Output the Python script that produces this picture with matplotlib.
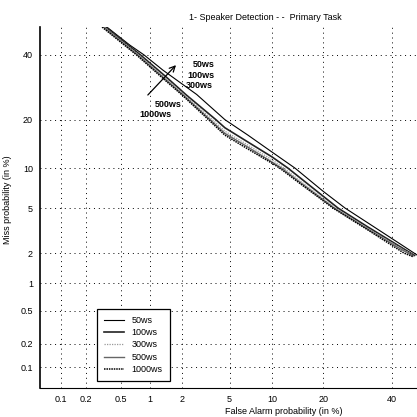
import matplotlib
matplotlib.use("Agg")
import matplotlib.pyplot as plt
import numpy as np
from statistics import NormalDist

plt.rcParams['font.family'] = ['Liberation Sans', 'DejaVu Sans']

# values (percent)
fa_50 = [0.35, 0.62, 0.87, 1.33, 2.7, 4.6, 6.84, 10.0, 13.9, 19.9, 25.6, 32.0, 42.7, 48.4]
miss_50 = [50, 43.5, 40, 34.8, 27, 20, 16.3, 12.8, 10.0, 6.8, 5.0, 3.8, 2.44, 1.92]

fa_100 = [0.34, 0.8, 1.4, 2.2, 3.9, 4.6, 7.2, 10.0, 12.6, 15.5, 23.7, 32.0, 42.7, 47.6]
miss_100 = [50, 40, 32.8, 26.8, 20, 18.0, 14.4, 11.9, 10.0, 8.2, 5.0, 3.5, 2.3, 1.9]

fa_300 = [0.33, 0.77, 1.37, 2.1, 3.65, 4.6, 7.0, 10.0, 11.9, 15.2, 23.0, 32.0, 42.7, 47.3]
miss_300 = [50, 40, 32.5, 26.9, 20, 17.2, 14.0, 11.4, 10.0, 7.95, 5.0, 3.4, 2.25, 1.9]

fa_500 = [0.32, 0.75, 1.35, 2.05, 3.5, 4.6, 6.9, 10.0, 11.5, 15.0, 22.7, 32.0, 42.7, 47.1]
miss_500 = [50, 40, 32.3, 26.9, 20, 16.7, 13.7, 11.0, 10.0, 7.85, 5.0, 3.35, 2.2, 1.88]

fa_1000 = [0.31, 0.73, 1.33, 2.0, 3.4, 4.6, 6.73, 10.0, 11.2, 14.9, 22.4, 32.0, 44.0, 47.0]
miss_1000 = [50, 40, 32.1, 26.9, 20, 16.3, 13.5, 10.8, 10.0, 7.75, 5.0, 3.3, 2.0, 1.85]

labels = ['50ws', '100ws', '300ws', '500ws', '1000ws']
tick_vals = [0.1, 0.2, 0.5, 1, 2, 5, 10, 20, 40]
tick_labels = ['0.1', '0.2', '0.5', '1', '2', '5', '10', '20', '40']

nd = NormalDist()


def _fwd(p):
    p = np.asarray(p, dtype=float)
    out = np.full(p.shape, np.nan)
    ok = (p > 0) & (p < 100)
    out[ok] = [nd.inv_cdf(v / 100.0) for v in p[ok]]
    return out


def _inv(z):
    z = np.asarray(z, dtype=float)
    out = np.array([nd.cdf(v) * 100.0 if np.isfinite(v) else np.nan for v in z.ravel()])
    return out.reshape(z.shape)


fig = plt.figure(figsize=(4.17, 4.17), dpi=100)
ax = fig.add_axes([40 / 417, 29 / 417, 381 / 417, 361 / 417])
ax.set_xscale('function', functions=(_fwd, _inv))
ax.set_yscale('function', functions=(_fwd, _inv))

styles = [
    dict(color='black', lw=0.8, ls='-'),
    dict(color='#222222', lw=1.2, ls='-'),
    dict(color='#999999', lw=0.9, ls=(0, (1, 1))),
    dict(color='#666666', lw=1.0, ls='-'),
    dict(color='black', lw=1.1, ls=(0, (1, 0.6))),
]
series = [(fa_50, miss_50), (fa_100, miss_100), (fa_300, miss_300),
          (fa_500, miss_500), (fa_1000, miss_1000)]
for (fa, miss), lab, st in zip(series, labels, styles):
    ax.plot(fa, miss, label=lab, **st)

ax.set_xlim(0.054, 49.8)
ax.set_ylim(0.052, 50)
ax.set_xticks(tick_vals)
ax.set_xticklabels(tick_labels)
ax.set_yticks(tick_vals)
ax.set_yticklabels(tick_labels)
ax.minorticks_off()
ax.tick_params(length=0, labelsize=6.5, pad=5)
ax.grid(True, color='black', lw=0.7, ls=(0, (1, 4)))

for s in ['top', 'right']:
    ax.spines[s].set_visible(False)
ax.spines['left'].set_linewidth(1.2)
ax.spines['bottom'].set_linewidth(0.8)

leg = ax.legend(loc='lower left', bbox_to_anchor=(0.15, 0.019), borderaxespad=0,
                fontsize=6.5, handlelength=2.2, fancybox=False, framealpha=1,
                edgecolor='black', labelspacing=0.36, borderpad=0.8)
leg.get_frame().set_linewidth(0.9)

# arrow and labels next to the curves
ax.annotate('', xy=(0.362, 0.900), xytext=(0.278, 0.806),
            xycoords='axes fraction', textcoords='axes fraction',
            arrowprops=dict(arrowstyle='->', lw=0.9, color='black'))
ax.text(0.402, 0.895, '50ws', transform=ax.transAxes, fontsize=6.5,
        fontweight='bold', va='center')
ax.text(0.386, 0.867, '100ws', transform=ax.transAxes, fontsize=6.5,
        fontweight='bold', va='center')
ax.text(0.383, 0.839, '300ws', transform=ax.transAxes, fontsize=6.5,
        fontweight='bold', va='center')
ax.text(0.302, 0.784, '500ws', transform=ax.transAxes, fontsize=6.5,
        fontweight='bold', va='center')
ax.text(0.262, 0.759, '1000ws', transform=ax.transAxes, fontsize=6.5,
        fontweight='bold', va='center')

fig.text(265 / 417, 1 - 17 / 417, '1- Speaker Detection - -  Primary Task',
         ha='center', va='center', fontsize=6.5)
fig.text(284 / 417, 1 - 411 / 417, 'False Alarm probability (in %)',
         ha='center', va='center', fontsize=6.5)
fig.text(8 / 417, 1 - 200 / 417, 'Miss probability (in %)',
         ha='center', va='center', rotation=90, fontsize=6.5)

fig.savefig('out.png', dpi=100)
